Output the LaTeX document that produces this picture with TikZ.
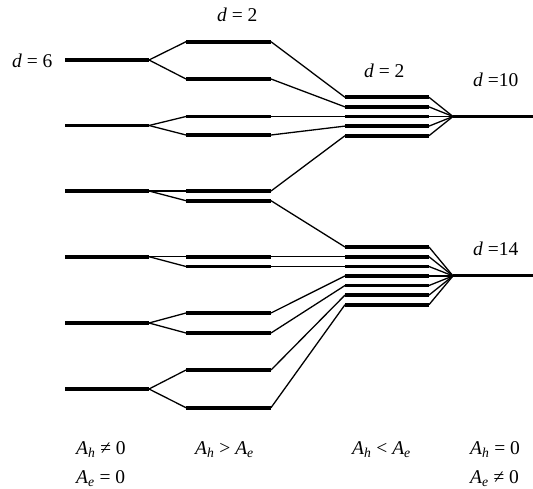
\documentclass[tikz,border=0pt]{standalone}
\usepackage{fontspec}
\setmainfont{Liberation Serif}
\begin{document}
\begin{tikzpicture}[x=1pt,y=-1pt,
  level/.style={line width=3.8pt},
  link/.style={line width=1.3pt},
  final/.style={line width=3pt},
  lab/.style={inner sep=0pt,anchor=base west,font=\fontsize{19.5}{22}\selectfont}]
\useasboundingbox (0,0) rectangle (533,489);
% column 1
\foreach \i/\y in {1/60,2/125.5,3/191,4/256.7,5/323,6/389}{
  \coordinate (Aa\i) at (65,\y); \coordinate (Ab\i) at (149,\y);
  \draw[level] (Aa\i) -- (Ab\i);}
% column 2
\foreach \i/\y in {1/41.7,2/79,3/116.5,4/135,5/191,6/200.7,7/256.7,8/266.5,9/313,10/333,11/370,12/407.7}{
  \coordinate (Ba\i) at (186,\y); \coordinate (Bb\i) at (271,\y);
  \draw[level] (Ba\i) -- (Bb\i);}
% column 3 upper
\foreach \i/\y in {1/97.3,2/106.9,3/116.5,4/126.1,5/135.7}{
  \coordinate (Ca\i) at (345,\y); \coordinate (Cb\i) at (429,\y);
  \draw[level] (Ca\i) -- (Cb\i);}
% column 3 lower
\foreach \i/\y in {1/247,2/256.7,3/266.5,4/275.9,5/285.5,6/295.1,7/304.7}{
  \coordinate (Da\i) at (345,\y); \coordinate (Db\i) at (429,\y);
  \draw[level] (Da\i) -- (Db\i);}
% convergence points and final levels
\coordinate (P) at (453,116.5); \coordinate (R) at (533,116.5);
\coordinate (Q) at (453,275.9); \coordinate (S) at (533,275.9);
\draw[final] (P) -- (R);
\draw[final] (Q) -- (S);
% links col1 -> col2
\foreach \a/\b in {1/1,1/2,2/3,2/4,3/5,3/6,4/7,4/8,5/9,5/10,6/11,6/12}{
  \draw[link] (Ab\a) -- (Ba\b);}
% links col2 -> col3
\foreach \a/\b in {1/1,2/2,3/3,4/4,5/5}{\draw[link] (Bb\a) -- (Ca\b);}
\foreach \a/\b in {6/1,7/2,8/3,9/4,10/5,11/6,12/7}{\draw[link] (Bb\a) -- (Da\b);}
% links col3 -> points
\foreach \i in {1,...,5}{\draw[link] (Cb\i) -- (P);}
\foreach \i in {1,...,7}{\draw[link] (Db\i) -- (Q);}
% labels
\node[lab] (t1) at (12,68) {\textit{d} = 6};
\node[lab] (t2) at (217,21.7) {\textit{d} = 2};
\node[lab] (t3) at (364,78) {\textit{d} = 2};
\node[lab] (t4) at (473,86.7) {\textit{d} =10};
\node[lab] (t5) at (473,255) {\textit{d} =14};
\node[lab] (b1) at (76,454) {\textit{A}\textsubscript{\textit{h}} ≠ 0};
\node[lab] (b2) at (76,483) {\textit{A}\textsubscript{\textit{e}} = 0};
\node[lab] (b3) at (195,454) {\textit{A}\textsubscript{\textit{h}} > \textit{A}\textsubscript{\textit{e}}};
\node[lab] (b4) at (352,454) {\textit{A}\textsubscript{\textit{h}} < \textit{A}\textsubscript{\textit{e}}};
\node[lab] (b5) at (470,454) {\textit{A}\textsubscript{\textit{h}} = 0};
\node[lab] (b6) at (470,483) {\textit{A}\textsubscript{\textit{e}} ≠ 0};
\end{tikzpicture}
\end{document}
